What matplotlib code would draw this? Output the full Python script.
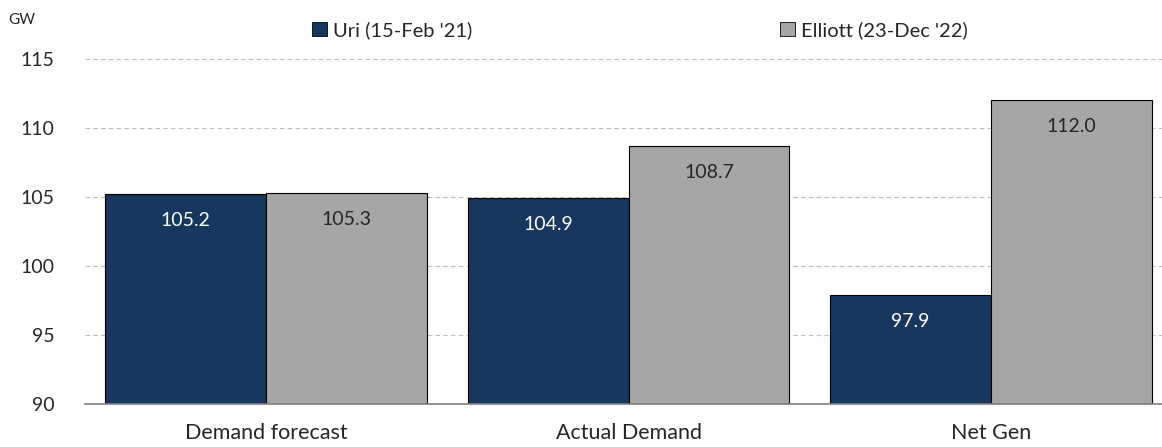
import numpy as np
import matplotlib
matplotlib.use("Agg")
from matplotlib import pyplot as plt
from matplotlib.patches import Patch

plt.rcParams['font.family'] = ['Lato', 'DejaVu Sans']

categories = ["Demand forecast", "Actual Demand", "Net Gen"]
uri = [105.2, 104.9, 97.9]
elliott = [105.3, 108.7, 112.0]
series_names = ["Uri (15-Feb '21)", "Elliott (23-Dec '22)"]
yticks = [90, 95, 100, 105, 110, 115]

c_uri = "#17375e"
c_ell = "#a6a6a6"

W, H = 1162, 447
fig = plt.figure(figsize=(W / 100, H / 100), dpi=100)
ax = fig.add_axes([85 / W, (H - 404) / H, (1172 - 85) / W, (404 - 59) / H])

x = np.arange(len(categories))
bw = 0.444
b1 = ax.bar(x - bw / 2, np.array(uri) - 90, bw, bottom=90, color=c_uri,
            edgecolor="black", linewidth=0.8, zorder=3)
b2 = ax.bar(x + bw / 2, np.array(elliott) - 90, bw, bottom=90, color=c_ell,
            edgecolor="black", linewidth=0.8, zorder=3)

# 柱内数值标签
for xi, v in zip(x, uri):
    ax.text(xi - bw / 2, v - 1.9, f"{v:.1f}", ha="center", va="center",
            color="white", fontsize=14, zorder=4)
for xi, v in zip(x, elliott):
    ax.text(xi + bw / 2, v - 1.9, f"{v:.1f}", ha="center", va="center",
            color="#262626", fontsize=14, zorder=4)

ax.set_xlim(-0.5, 2.5)
ax.set_ylim(90, 115)
ax.set_yticks(yticks)
ax.set_xticks(x)
ax.set_xticklabels(categories)
ax.tick_params(axis="both", length=0, labelsize=14, colors="#262626")
ax.tick_params(axis="x", pad=14, labelsize=15.5)
ax.tick_params(axis="y", pad=22)
ax.yaxis.grid(True, linestyle=(0, (4, 3)), color="#bfbfbf", linewidth=0.8, zorder=0)
for s in ["top", "right", "left"]:
    ax.spines[s].set_visible(False)
ax.spines["bottom"].set_color("#808080")
ax.spines["bottom"].set_linewidth(1.2)
ax.spines["bottom"].set_zorder(5)

fig.text(8 / W, 1 - 20 / H, "GW", fontsize=11, color="#262626", va="center")

handles = [Patch(facecolor=c_uri, edgecolor="black", linewidth=0.6),
           Patch(facecolor=c_ell, edgecolor="black", linewidth=0.6)]
fig.legend(handles, series_names, loc="center", bbox_to_anchor=(640 / W, 1 - 30 / H),
           ncol=2, frameon=False, fontsize=14.5, handlelength=0.75, handleheight=0.75,
           handletextpad=0.3, columnspacing=15.3, labelcolor="#262626")

fig.savefig("out.png", dpi=100)
